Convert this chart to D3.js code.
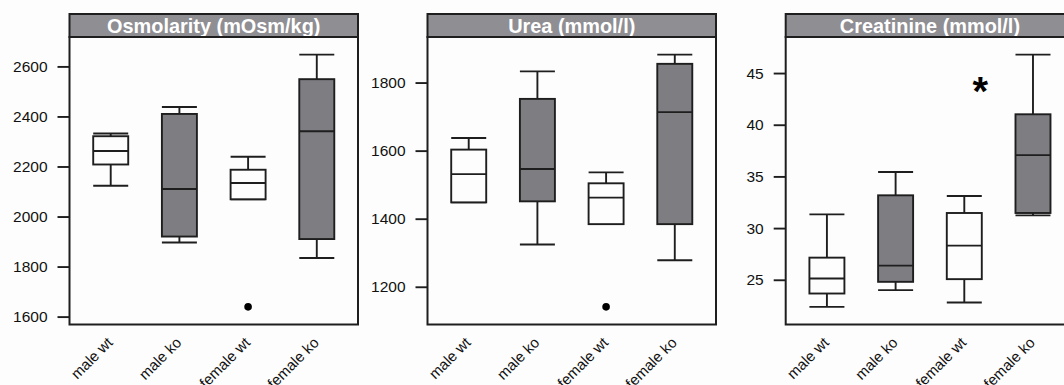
<!DOCTYPE html>
<html>
<head>
<meta charset="utf-8">
<script src="https://cdn.jsdelivr.net/npm/d3@7"></script>
<style>
  html, body { margin: 0; padding: 0; background: #fdfdfd; }
  svg { display: block; }
  text { font-family: "Liberation Sans", Arial, Helvetica, sans-serif; }
</style>
</head>
<body>
<svg id="chart" width="1064" height="385"></svg>
<script>
// Groups shown in every panel
const categories = ["male wt", "male ko", "female wt", "female ko"];
const genotypes = ["wt", "ko", "wt", "ko"];

// Box statistics per group: [lower whisker, Q1, median, Q3, upper whisker]
const osmolarityStats = [
  [2123, 2208, 2262, 2321, 2332],
  [1896, 1920, 2110, 2410, 2438],
  [2069, 2069, 2134, 2187, 2239],
  [1834, 1910, 2341, 2549, 2647]
];
const osmolarityOutliers = [[], [], [1639], []];
const osmolarityTicks = [1600, 1800, 2000, 2200, 2400, 2600];

const ureaStats = [
  [1448, 1448, 1531, 1603, 1637],
  [1324, 1451, 1546, 1752, 1833],
  [1384, 1384, 1462, 1504, 1536],
  [1278, 1384, 1713, 1855, 1882]
];
const ureaOutliers = [[], [], [1141], []];
const ureaTicks = [1200, 1400, 1600, 1800];

const creatinineStats = [
  [22.38, 23.67, 25.12, 27.14, 31.33],
  [24.0, 24.8, 26.37, 33.17, 35.42],
  [22.8, 25.06, 28.3, 31.46, 33.1],
  [31.23, 31.46, 37.06, 41.01, 46.78]
];
const creatinineOutliers = [[], [], [], []];
const creatinineTicks = [25, 30, 35, 40, 45];

const panelTitles = ["Osmolarity (mOsm/kg)", "Urea (mmol/l)", "Creatinine (mmol/l)"];
// Significance mark in the creatinine panel (value on the y scale)
const creatinineMark = { text: "*", value: 44.3 };

const panels = [
  { title: panelTitles[0], stats: osmolarityStats, outliers: osmolarityOutliers, ticks: osmolarityTicks },
  { title: panelTitles[1], stats: ureaStats, outliers: ureaOutliers, ticks: ureaTicks },
  { title: panelTitles[2], stats: creatinineStats, outliers: creatinineOutliers, ticks: creatinineTicks, mark: creatinineMark }
];

// Layout
const panelLeft = [69.5, 427.5, 785.7];
const panelWidth = 288.5;
const stripTop = 14, stripH = 23;
const plotTop = stripTop + stripH, plotBottom = 324.5;
const frameColor = "#1e1e1e";
const koFill = "#7e7d82";
const stripFill = "#8f8e93";

const svg = d3.select("#chart");

panels.forEach((p, i) => {
  const x0 = panelLeft[i];
  const g = svg.append("g");

  // y range padded 7% beyond the data, lattice-style
  const all = p.stats.flat().concat(p.outliers.flat());
  const lo = d3.min(all), hi = d3.max(all), pad = (hi - lo) * 0.07;
  const y = d3.scaleLinear().domain([lo - pad, hi + pad]).range([plotBottom, plotTop]);
  const x = d3.scalePoint().domain(categories).range([x0, x0 + panelWidth]).padding(0.6);
  const boxW = 35;

  // Plot background
  g.append("rect")
    .attr("x", x0).attr("y", plotTop)
    .attr("width", panelWidth).attr("height", plotBottom - plotTop)
    .attr("fill", "#fdfdfd");

  // Whiskers, caps, boxes and medians
  categories.forEach((c, k) => {
    const s = p.stats[k];
    const cx = x(c);
    const bg = g.append("g").attr("stroke", frameColor).attr("stroke-width", 1.9).attr("fill", "none");
    bg.append("line").attr("x1", cx).attr("x2", cx).attr("y1", y(s[3])).attr("y2", y(s[4]));
    bg.append("line").attr("x1", cx).attr("x2", cx).attr("y1", y(s[1])).attr("y2", y(s[0]));
    bg.append("line").attr("x1", cx - boxW / 2).attr("x2", cx + boxW / 2).attr("y1", y(s[4])).attr("y2", y(s[4]));
    bg.append("line").attr("x1", cx - boxW / 2).attr("x2", cx + boxW / 2).attr("y1", y(s[0])).attr("y2", y(s[0]));
    bg.append("rect")
      .attr("x", cx - boxW / 2).attr("y", y(s[3]))
      .attr("width", boxW).attr("height", y(s[1]) - y(s[3]))
      .attr("fill", genotypes[k] === "ko" ? koFill : "#fdfdfd");
    bg.append("line").attr("x1", cx - boxW / 2).attr("x2", cx + boxW / 2).attr("y1", y(s[2])).attr("y2", y(s[2]));

    p.outliers[k].forEach(v => {
      g.append("circle").attr("cx", cx).attr("cy", y(v)).attr("r", 3.8).attr("fill", "#000");
    });
  });

  if (p.mark) {
    g.append("text")
      .attr("x", x(categories[2]) + 16).attr("y", y(p.mark.value))
      .attr("text-anchor", "middle")
      .attr("dy", "0.62em")
      .attr("font-size", 40).attr("font-weight", "bold")
      .text(p.mark.text);
  }

  // Y axis
  const yAxis = d3.axisLeft(y).tickValues(p.ticks).tickSize(12).tickPadding(10).tickFormat(d3.format("d"));
  const ax = g.append("g").attr("transform", `translate(${x0},0)`).call(yAxis);
  ax.attr("font-size", null).attr("font-family", null);
  ax.select(".domain").remove();
  ax.selectAll(".tick line").attr("stroke", frameColor).attr("stroke-width", 1.9);
  ax.selectAll(".tick text").attr("font-size", 15.5).attr("fill", "#111");

  // X labels, rotated
  categories.forEach(c => {
    g.append("text")
      .attr("transform", `translate(${x(c) + 3},${plotBottom + 19}) rotate(-45)`)
      .attr("text-anchor", "end")
      .attr("font-size", 15).attr("fill", "#111")
      .text(c);
  });

  // Strip with title
  g.append("rect")
    .attr("x", x0).attr("y", stripTop)
    .attr("width", panelWidth).attr("height", stripH)
    .attr("fill", stripFill).attr("stroke", frameColor).attr("stroke-width", 2);
  g.append("text")
    .attr("x", x0 + panelWidth / 2).attr("y", stripTop + stripH / 2)
    .attr("dy", "0.36em")
    .attr("text-anchor", "middle")
    .attr("font-size", 19.9).attr("font-weight", "bold").attr("fill", "#fff")
    .text(p.title);

  // Panel frame
  g.append("rect")
    .attr("x", x0).attr("y", plotTop)
    .attr("width", panelWidth).attr("height", plotBottom - plotTop)
    .attr("fill", "none").attr("stroke", frameColor).attr("stroke-width", 2);
});
</script>
</body>
</html>
